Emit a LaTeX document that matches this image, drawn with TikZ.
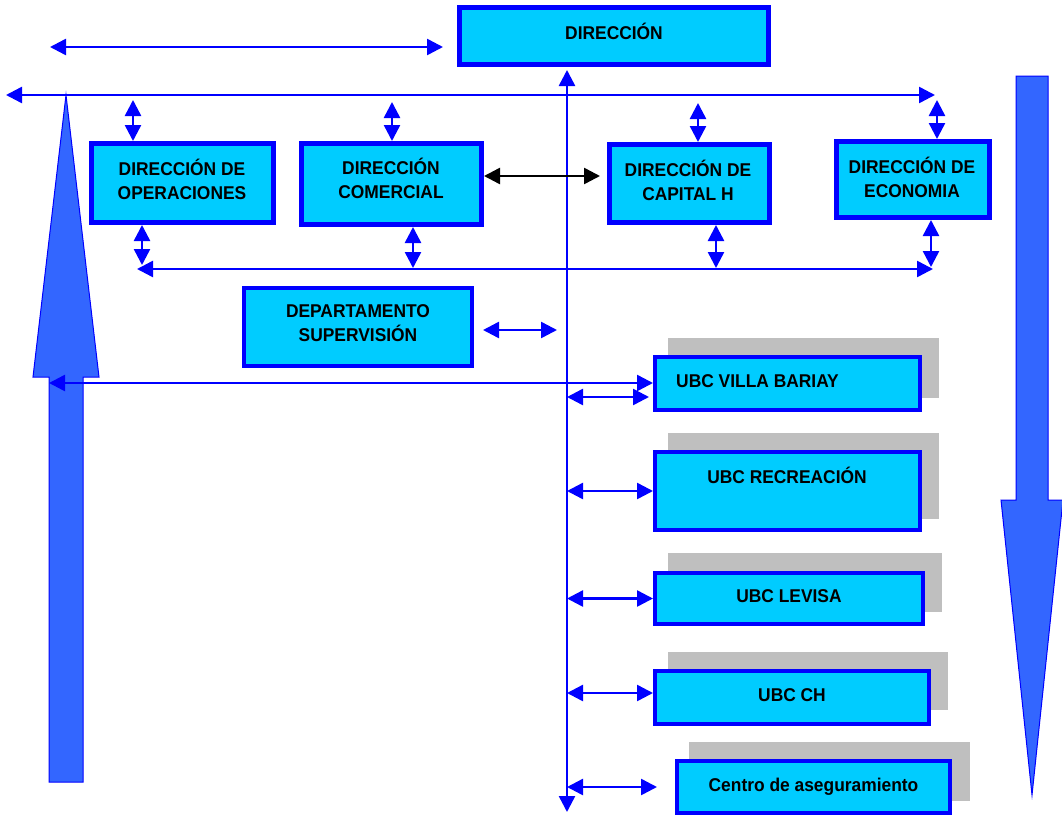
\documentclass[tikz,border=0pt]{standalone}
\usepackage{fontspec}
\newfontfamily\boxfont{Liberation Sans}[FakeStretch=0.94]
\usetikzlibrary{arrows.meta}
\definecolor{bblue}{RGB}{0,0,255}
\definecolor{ccyan}{RGB}{0,204,255}
\definecolor{bigblue}{RGB}{51,102,255}
\definecolor{shadowgray}{RGB}{191,191,191}
\tikzset{
  box/.style={draw=bblue, fill=ccyan, line width=5pt, inner sep=0pt, align=center,
              font=\boxfont\bfseries\fontsize{18.5}{24}\selectfont},
  ubox/.style={box, line width=4pt},
  one/.style={text height=14pt, text depth=6pt},
  lbl/.style={inner sep=0pt, align=center, font=\boxfont\bfseries\fontsize{18.5}{24}\selectfont},
  dbl/.style={draw=bblue, line width=2.5pt, {Triangle[length=16pt,width=16pt]}-{Triangle[length=16pt,width=16pt]}},
  blk/.style={draw=black, line width=2.5pt, {Triangle[length=16pt,width=16pt]}-{Triangle[length=16pt,width=16pt]}},
  bigarrow/.style={fill=bigblue, draw=bblue, line width=1pt},
  shadow/.style={fill=shadowgray}
}
\begin{document}
\begin{tikzpicture}[x=1pt,y=-1pt]
\useasboundingbox (0,0) rectangle (1062,816);
% big arrows
\filldraw[bigarrow] (49,782) -- (49,377) -- (33,377) -- (66,95) -- (99,377) -- (83,377) -- (83,782) -- cycle;
\filldraw[bigarrow] (1016,76) -- (1048,76) -- (1048,500) -- (1063,500) -- (1032,795) -- (1001,500) -- (1016,500) -- cycle;
% shadows
\fill[shadow] (668,338) rectangle (939,398);
\fill[shadow] (668,433) rectangle (939,519);
\fill[shadow] (668,553) rectangle (942,612);
\fill[shadow] (668,652) rectangle (948,710);
\fill[shadow] (689,742) rectangle (970,801);
% boxes
\node[box, one, minimum width=309pt, minimum height=57pt] (dir) at (614,36) {DIRECCIÓN};
\node[box, minimum width=182pt, minimum height=79pt] (op) at (182.5,183) {};
\node[lbl] (opT) at (182,179) {DIRECCIÓN DE\\OPERACIONES};
\node[box, minimum width=180pt, minimum height=81pt] (com) at (391.5,184) {};
\node[lbl] (comT) at (391,178.5) {DIRECCIÓN\\COMERCIAL};
\node[box, minimum width=160pt, minimum height=78pt] (cap) at (689.5,183.5) {};
\node[lbl] (capT) at (688,180.5) {DIRECCIÓN DE\\CAPITAL H};
\node[box, minimum width=153pt, minimum height=76pt] (eco) at (913,179.5) {};
\node[lbl] (ecoT) at (912,177.5) {DIRECCIÓN DE\\ECONOMIA};
\node[box, line width=4pt, minimum width=228pt, minimum height=78pt] (sup) at (358,327) {};
\node[lbl] (supT) at (358,323.5) {DEPARTAMENTO\\SUPERVISIÓN};
\node[ubox, minimum width=265pt, minimum height=53pt] (villa) at (787.5,383.5) {};
\node[lbl, anchor=west] (villaT) at (676,381) {UBC VILLA BARIAY};
\node[ubox, minimum width=265pt, minimum height=78pt] (rec) at (787.5,491) {};
\node[lbl] (recT) at (787,475) {UBC RECREACIÓN};
\node[ubox, one, minimum width=268pt, minimum height=51pt] (lev) at (789,598.5) {UBC LEVISA};
\node[ubox, one, minimum width=274pt, minimum height=53pt] (ch) at (792,697.5) {UBC CH};
\node[ubox, one, minimum width=273pt, minimum height=52pt] (cen) at (813.5,787) {Centro de aseguramiento};
% free ends
\coordinate (tl1) at (50,47);
\coordinate (tl2) at (443,47);
\coordinate (L1) at (6,95);
\coordinate (L2) at (935,95);
\coordinate (M1) at (137,269);
\coordinate (M2) at (933,269);
\coordinate (vb) at (567,812);
\coordinate (s2) at (557,330);
\coordinate (la) at (49,383);
% connectors
\draw[dbl] (tl1) -- (tl2);
\draw[dbl] (L1) -- (L2);
\draw[dbl] (M1) -- (M2);
\draw[dbl, shorten >=3pt] (vb) -- (vb |- dir.south);
\draw[dbl] ([xshift=-49.5pt]op.north) -- ++(0,-41);
\draw[dbl] ([xshift=0.5pt]com.north) -- ++(0,-39);
\draw[dbl] ([xshift=8.5pt]cap.north) -- ++(0,-39);
\draw[dbl] ([xshift=24pt]eco.north) -- ++(0,-39);
\draw[dbl] ([xshift=-40.5pt]op.south) -- ++(0,40);
\draw[dbl] ([xshift=21.5pt]com.south) -- ++(0,41);
\draw[dbl] ([xshift=26.5pt]cap.south) -- ++(0,43);
\draw[dbl] ([xshift=18pt]eco.south) -- ++(0,47);
\draw[blk, shorten >=7pt] ([yshift=8pt]com.east) -- ([yshift=7.5pt]cap.west);
\draw[dbl, shorten <=9pt] ([yshift=-3pt]sup.east) -- (s2);
\draw[dbl] (la) -- (la -| villa.west);
\draw[dbl, shorten >=4pt] ([yshift=-13.5pt]villa.west -| vb) -- ([yshift=-13.5pt]villa.west);
\draw[dbl] (rec.west -| vb) -- (rec.west);
\draw[dbl] (lev.west -| vb) -- (lev.west);
\draw[dbl] ([yshift=4.5pt]ch.west -| vb) -- ([yshift=4.5pt]ch.west);
\draw[dbl, shorten >=18pt] (cen.west -| vb) -- (cen.west);
\end{tikzpicture}
\end{document}
